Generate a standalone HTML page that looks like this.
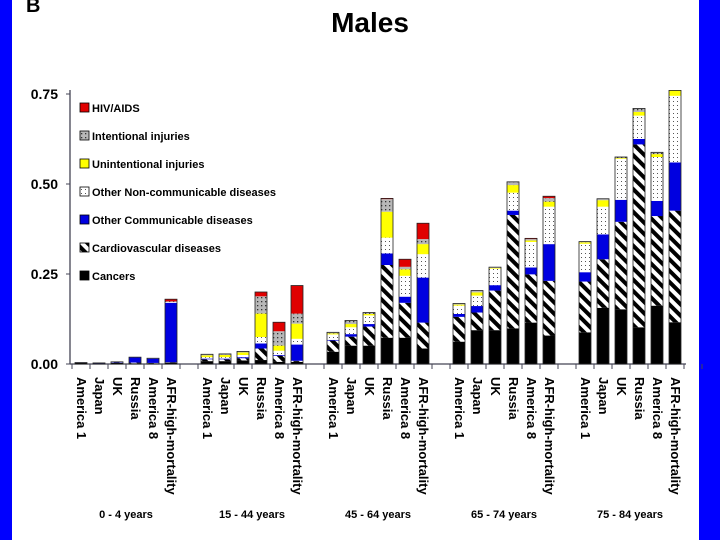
<!DOCTYPE html>
<html><head><meta charset="utf-8"><style>
html,body{margin:0;padding:0;background:#0000ff;}
svg{display:block;font-family:"Liberation Sans",Arial,sans-serif;font-weight:bold;}
</style></head><body>
<svg id="chart" width="720" height="540" xmlns="http://www.w3.org/2000/svg">
<defs>
<pattern id="pCvd" width="8" height="8" patternUnits="userSpaceOnUse" patternTransform="rotate(-45)">
<rect width="8" height="8" fill="#fff"/><rect width="4" height="8" fill="#000"/></pattern>
<pattern id="pNcd" width="4" height="4" patternUnits="userSpaceOnUse">
<rect width="4" height="4" fill="#fff"/><rect x="1" y="1" width="1" height="1" fill="#555"/></pattern>
<pattern id="pInt" width="4" height="4" patternUnits="userSpaceOnUse">
<rect width="4" height="4" fill="#b8b8b8"/><rect x="1" y="1" width="1.3" height="1.3" fill="#333"/></pattern>
</defs>
<rect x="12" y="0" width="687" height="540" fill="#fff"/>
<text x="26" y="12" font-size="20">B</text>
<text x="370" y="32" font-size="28" text-anchor="middle">Males</text>
<g id="plot"></g>
</svg>
<script>
const categories=["America 1","Japan","UK","Russia","America 8","AFR-high-mortality"];
const groups=["0 - 4 years","15 - 44 years","45 - 64 years","65 - 74 years","75 - 84 years"];
const seriesNames=["Cancers","Cardiovascular diseases","Other Communicable diseases","Other Non-communicable diseases","Unintentional injuries","Intentional injuries","HIV/AIDS"];
const cancers=[.003,.002,.003,.002,.002,.004, .008,.008,.01,.011,.006,.006, .034,.051,.051,.073,.073,.043, .062,.094,.094,.099,.115,.079, .088,.156,.152,.102,.162,.116];
const cardiovascular=[0,0,.001,.002,.001,.001, .005,.005,.006,.032,.017,.003, .031,.025,.053,.202,.097,.072, .069,.049,.110,.315,.134,.152, .141,.135,.243,.508,.249,.310];
const otherCommunicable=[.001,.001,.002,.014,.012,.165, .002,.002,.003,.014,.002,.045, .002,.007,.007,.032,.017,.125, .008,.018,.015,.012,.019,.102, .026,.069,.061,.015,.042,.134];
const otherNonCommunicable=[0,0,0,.001,.001,.002, .004,.004,.006,.018,.012,.016, .015,.019,.024,.044,.058,.065, .023,.029,.046,.050,.071,.104, .079,.077,.114,.065,.122,.185];
const unintentional=[0,0,0,0,0,0, .005,.006,.007,.065,.014,.042, .003,.009,.004,.072,.018,.028, .003,.009,.002,.021,.004,.014, .004,.018,.002,.010,.008,.015];
const intentional=[0,0,0,0,0,.002, .003,.003,.003,.048,.04,.028, .003,.010,.004,.035,.007,.014, .003,.005,.002,.009,.004,.010, .002,.004,.003,.010,.005,0];
const hivAids=[0,0,0,0,0,.006, 0,0,0,.012,.025,.078, 0,0,0,.002,.021,.044, 0,0,0,0,.002,.005, 0,0,0,0,0,0];
const yTicks=[0,0.25,0.5,0.75];
const yTickLabels=["0.00","0.25","0.50","0.75"];

const NS="http://www.w3.org/2000/svg";
const g=document.getElementById('plot');
const y0=364, pxPerUnit=360, x0=81, slot=18, barW=12;
const yS=v=>y0-v*pxPerUnit;
const xS=(gi,ci)=>x0+slot*(gi*7+ci);
function mk(tag,attrs){const e=document.createElementNS(NS,tag);for(const k in attrs)e.setAttribute(k,attrs[k]);g.appendChild(e);return e;}
const series=[cancers,cardiovascular,otherCommunicable,otherNonCommunicable,unintentional,intentional,hivAids];
const fills=["#000","url(#pCvd)","#0000e0","url(#pNcd)","#ffff00","url(#pInt)","#e00000"];
const keys=["cancers","cvd","other-comm","other-ncd","unintentional","intentional","hiv"];

let ax=mk('line',{x1:70,y1:90,x2:70,y2:y0,stroke:'#445',"stroke-width":1.3});


let xax=mk('line',{x1:70,y1:y0,x2:686,y2:y0,stroke:'#445',"stroke-width":1.3});


yTicks.forEach((v,i)=>{
 const t=mk('line',{x1:66,x2:70,y1:yS(v),y2:yS(v),stroke:'#445'});
 
 
 const l=mk('text',{x:58,y:yS(v)+5,"font-size":14,"text-anchor":"end"});l.textContent=yTickLabels[i];
 
 
});
for(let k=0;k<=35;k++){const x=x0-9+slot*k;
 const t=mk('line',{x1:x,x2:x,y1:y0,y2:y0+5,stroke:'#445'});
 
 }
groups.forEach((gn,gi)=>{
 categories.forEach((cn,ci)=>{
  const idx=gi*6+ci, x=xS(gi,ci);
  let cum=0;
  series.forEach((s,si)=>{
   const v=s[idx]; if(v<=0) return;
   const r=mk('rect',{x:x-barW/2,y:yS(cum+v),width:barW,height:v*pxPerUnit,fill:fills[si]});
   
   
   cum+=v;
  });
  const o=mk('rect',{x:x-barW/2,y:yS(cum),width:barW,height:cum*pxPerUnit,fill:'none',stroke:'#222',"stroke-width":0.8});
  
  
  const t=mk('text',{x:x-4,y:377,"font-size":13,transform:`rotate(90 ${x-4} 377)`});
  t.textContent=cn;
  
  
 });
 const gx=(xS(gi,0)+xS(gi,5))/2;
 const gl=mk('text',{x:gx,y:518,"font-size":11,"text-anchor":"middle"});gl.textContent=gn;
 
 
});
for(let i=6;i>=0;i--){
 const yy=108+(6-i)*28;
 const b=mk('rect',{x:80,y:yy-5,width:9,height:9,fill:fills[i],stroke:'#000',"stroke-width":0.8});
 
 
 const t=mk('text',{x:92,y:yy+4,"font-size":11});t.textContent=seriesNames[i];
 
 
}
</script>
</body></html>
